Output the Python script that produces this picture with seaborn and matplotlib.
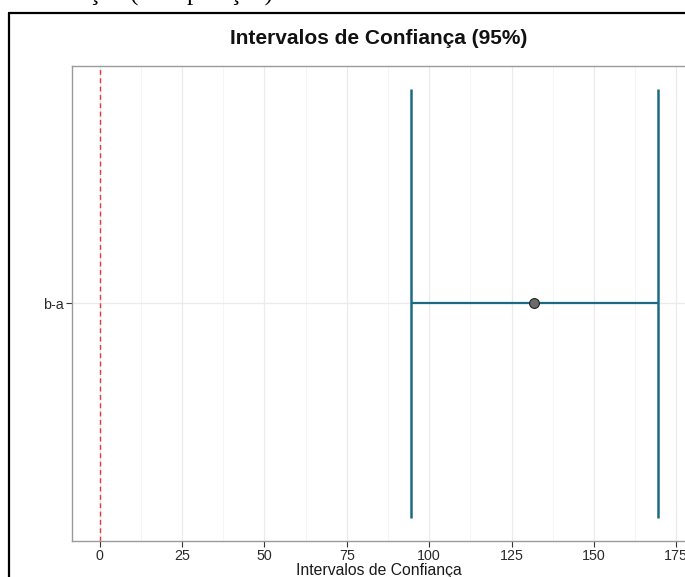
import matplotlib
matplotlib.use("Agg")
import matplotlib.pyplot as plt
import seaborn as sns
import pandas as pd
from matplotlib.lines import Line2D

# ---- data ----
comparisons = ["b-a"]
estimates = [131.9]
lower = [94.4]
upper = [169.4]
ref_value = [0]
x_ticks = [0, 25, 50, 75, 100, 125, 150, 175]

df = pd.DataFrame({"comp": comparisons, "est": estimates, "lwr": lower, "upr": upper})
df["ypos"] = range(len(df))

sns.set_theme(style="white")
plt.rcParams["font.family"] = ["Liberation Sans", "DejaVu Sans"]

W, H = 685, 577
fig = plt.figure(figsize=(W / 100, H / 100), dpi=100)
fig.patch.set_facecolor("white")

px_per_unit = 3.2954
xl = (-8.47, 177.9)
left_px, top_px, bot_px = 71.7, 66, 541
right_px = left_px + (xl[1] - xl[0]) * px_per_unit
ax = fig.add_axes([left_px / W, 1 - bot_px / H, (right_px - left_px) / W, (bot_px - top_px) / H])
ax.set_facecolor("white")

ax.set_xlim(*xl)
ax.set_ylim(-0.6, 0.6)

# grid
for v in x_ticks:
    ax.axvline(v, color="#EBEBEB", lw=0.9, zorder=0)
for v in x_ticks:
    ax.axvline(v + 12.5, color="#F4F4F4", lw=0.6, zorder=0)
for y in df["ypos"]:
    ax.axhline(y, color="#EBEBEB", lw=0.9, zorder=0)

# reference line
for r in ref_value:
    ax.axvline(r, color="#E8383D", lw=1.0, ls=(0, (3.5, 2.5)), zorder=1)

teal = "#1C6A84"
cap = 0.543
ax.hlines(df["ypos"], df["lwr"], df["upr"], color=teal, lw=1.6, zorder=2)
ax.vlines(df["lwr"], df["ypos"] - cap, df["ypos"] + cap, color=teal, lw=1.8, zorder=2)
ax.vlines(df["upr"], df["ypos"] - cap, df["ypos"] + cap, color=teal, lw=1.8, zorder=2)
sns.scatterplot(data=df, x="est", y="ypos", ax=ax, s=50, color="#6B6B6B",
                edgecolor="#222222", linewidth=0.8, zorder=3, legend=False)

ax.set_xticks(x_ticks)
ax.set_xticklabels([str(t) for t in x_ticks])
ax.set_yticks(df["ypos"])
ax.set_yticklabels(df["comp"])
ax.tick_params(axis="both", which="major", length=4, width=0.8, color="#333333",
               labelsize=10.3, labelcolor="#2A2A2A", pad=2, bottom=True, left=True)
for s in ax.spines.values():
    s.set_color("#9A9A9A")
    s.set_linewidth(1.0)
ax.set_xlabel("Intervalos de Confiança", fontsize=11.3, color="#1A1A1A", labelpad=-0.5)
ax.set_ylabel("")
ax.set_title("Intervalos de Confiança (95%)", fontsize=15, fontweight="bold",
             color="#111111", pad=16)

# outer screenshot frame
fig.add_artist(Line2D([9 / W, 9 / W], [0, 1 - 12.5 / H], color="black", lw=1.6, transform=fig.transFigure))
fig.add_artist(Line2D([9 / W, 1], [1 - 12.5 / H, 1 - 12.5 / H], color="black", lw=1.6, transform=fig.transFigure))

# cropped caption above the frame (only its descenders are visible)
fig.text(78 / W, 1 - 1.0 / H, "ação (Comparação)", fontsize=18,
         family=["Liberation Serif", "DejaVu Serif"], ha="left", va="baseline", color="black")

fig.savefig("out.png", dpi=100)
